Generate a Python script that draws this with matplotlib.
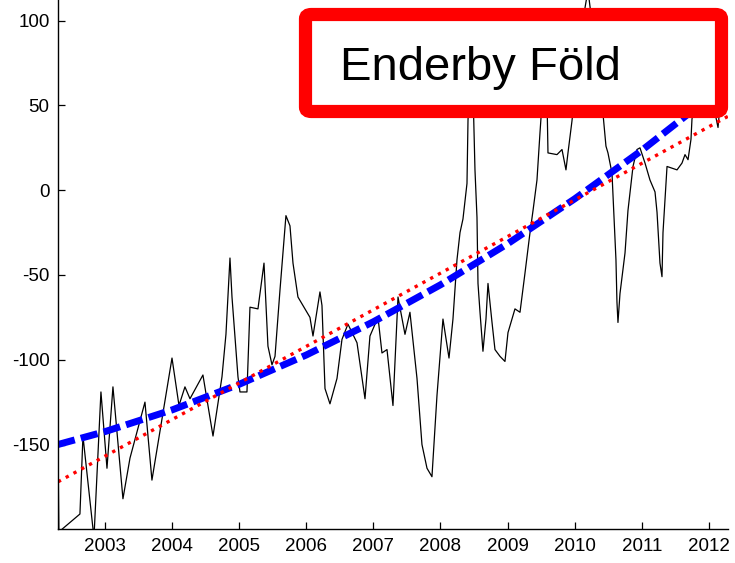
import matplotlib
matplotlib.use('Agg')
import matplotlib.pyplot as plt
from matplotlib.patches import FancyBboxPatch

plt.rcParams['font.family'] = ['Liberation Sans', 'DejaVu Sans']
plt.rcParams['axes.unicode_minus'] = False

# Data (decimal year, value)
years = [2002.300, 2002.314, 2002.359, 2002.627, 2002.672, 2002.836, 2002.940, 2003.030,
         2003.119, 2003.268, 2003.373, 2003.596, 2003.700, 2003.999, 2004.103, 2004.192,
         2004.267, 2004.460, 2004.610, 2004.744, 2004.803, 2004.863, 2004.893, 2004.982,
         2005.012, 2005.116, 2005.161, 2005.280, 2005.370, 2005.429, 2005.489, 2005.534,
         2005.608, 2005.697, 2005.757, 2005.802, 2005.876, 2005.981, 2006.055, 2006.100,
         2006.204, 2006.234, 2006.279, 2006.353, 2006.458, 2006.532, 2006.621, 2006.756,
         2006.875, 2006.949, 2007.069, 2007.128, 2007.203, 2007.292, 2007.367, 2007.471,
         2007.545, 2007.650, 2007.724, 2007.799, 2007.873, 2007.948, 2008.037, 2008.127,
         2008.186, 2008.246, 2008.291, 2008.335, 2008.395, 2008.410, 2008.440, 2008.484,
         2008.514, 2008.544, 2008.559, 2008.589, 2008.633, 2008.678, 2008.708, 2008.768,
         2008.812, 2008.887, 2008.961, 2009.006, 2009.110, 2009.185, 2009.259, 2009.334,
         2009.379, 2009.438, 2009.483, 2009.528, 2009.587, 2009.602, 2009.736, 2009.811,
         2009.870, 2009.900, 2009.960, 2010.079, 2010.198, 2010.317, 2010.422, 2010.466,
         2010.496, 2010.556, 2010.586, 2010.615, 2010.630, 2010.645, 2010.675, 2010.750,
         2010.794, 2010.869, 2010.928, 2010.973, 2011.048, 2011.122, 2011.197, 2011.227,
         2011.271, 2011.301, 2011.316, 2011.376, 2011.450, 2011.525, 2011.599, 2011.644,
         2011.689, 2011.733, 2011.748, 2011.867, 2012.016, 2012.136, 2012.210, 2012.300]
values = [-149, -205, -200, -191, -145, -205, -119, -164,
          -116, -182, -158, -125, -171, -99, -127, -116,
          -123, -109, -145, -110, -85, -40, -63, -110,
          -119, -119, -69, -70, -43, -92, -103, -98,
          -59, -15, -21, -43, -63, -70, -75, -86,
          -60, -68, -117, -126, -111, -88, -79, -90,
          -123, -86, -75, -96, -94, -127, -63, -85,
          -72, -111, -150, -164, -169, -121, -76, -99,
          -76, -41, -25, -17, 4, 41, 75, 60,
          12, -16, -55, -72, -95, -76, -55, -78,
          -94, -98, -101, -84, -70, -72, -49, -25,
          -12, 6, 34, 60, 55, 22, 21, 24,
          12, 22, 41, 90, 118, 80, 45, 26,
          22, 10, -16, -41, -66, -78, -61, -37,
          -12, 14, 24, 25, 16, 6, -1, -13,
          -43, -51, -25, 14, 13, 12, 16, 21,
          18, 30, 42, 70, 60, 37, 70, 100]

# Trend lines
lin_years = [2002.3, 2012.285]
lin_values = [-172, 43.6]
quad_years = [2002.3, 2003, 2004, 2005, 2006, 2007, 2008, 2009, 2010, 2011, 2012, 2012.285]
quad_values = [-150, -142.4, -129.6, -114.5, -97.2, -77.6, -55.8, -31.6, -5.1, 23.5, 54.5, 63.7]

tick_years = list(range(2003, 2013))
y_ticks = [-150, -100, -50, 0, 50, 100]

fig = plt.figure(figsize=(7.35, 5.63), dpi=100)
ax = fig.add_axes([0.0789, 0.0599, 0.9116, 0.9401])

ax.plot(years, values, color='black', linewidth=0.9)
ax.plot(quad_years, quad_values, color='#0000ff', linewidth=5,
        dashes=(2.5, 0.9), dash_capstyle='butt')
ax.plot(lin_years, lin_values, color='red', linewidth=2.4, linestyle=':')

ax.set_xlim(2002.30, 2012.285)
ax.set_ylim(-200, 112.2)
ax.set_xticks(tick_years)
ax.set_xticklabels([str(y) for y in tick_years])
ax.set_yticks(y_ticks)
ax.tick_params(direction='in', length=5, width=0.9, labelsize=13.5, colors='black')
ax.tick_params(axis='x', pad=6)
ax.tick_params(axis='y', pad=6)
for s in ['top', 'right']:
    ax.spines[s].set_visible(False)
for s in ['left', 'bottom']:
    ax.spines[s].set_linewidth(1.0)

# Title box
W, H = 735, 563
box = FancyBboxPatch((305.5 / W, 1 - 111.5 / H), (721.5 - 305.5) / W, (111.5 - 14.5) / H,
                     boxstyle='round,pad=0,rounding_size=0.008',
                     transform=fig.transFigure, facecolor='white', edgecolor='red',
                     linewidth=9.5, zorder=5)
fig.add_artist(box)
fig.text(340 / W, 1 - 80 / H, 'Enderby Föld', fontsize=34, color='black',
         ha='left', va='baseline', zorder=6)

fig.savefig('out.png', dpi=100)
